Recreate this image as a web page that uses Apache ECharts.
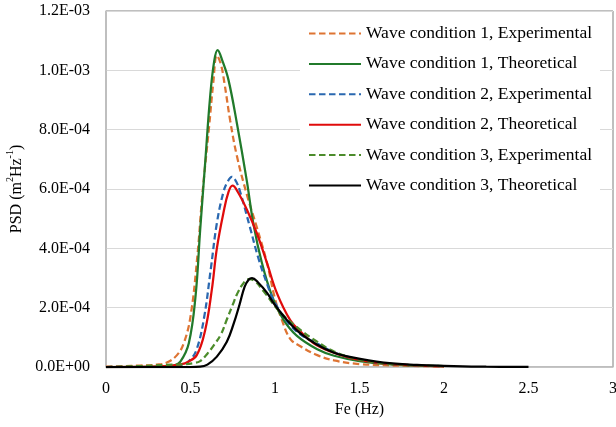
<!DOCTYPE html>
<html>
<head>
<meta charset="utf-8">
<script src="https://cdn.jsdelivr.net/npm/echarts@6/dist/echarts.min.js"></script>
<style>
html,body{margin:0;padding:0;background:#fff;}
#chart{width:616px;height:427px;}
</style>
</head>
<body>
<div id="chart"></div>
<script>
// Series names
const seriesNames = [
  'Wave condition 1, Experimental',
  'Wave condition 1, Theoretical',
  'Wave condition 2, Experimental',
  'Wave condition 2, Theoretical',
  'Wave condition 3, Experimental',
  'Wave condition 3, Theoretical'
];

// Wave condition 1, Experimental
const f1e = [0, 0.1, 0.2, 0.3, 0.36, 0.42, 0.46, 0.5, 0.54, 0.57, 0.61, 0.635, 0.656, 0.68, 0.7, 0.735, 0.775, 0.834, 0.893, 0.953, 1.0, 1.04, 1.09, 1.15, 1.25, 1.35, 1.5, 1.7, 2.0];
const p1e = [0.01e-4, 0.03e-4, 0.05e-4, 0.08e-4, 0.15e-4, 0.4e-4, 0.8e-4, 1.7e-4, 3.7e-4, 5.8e-4, 8.1e-4, 9.6e-4, 10.5e-4, 10.2e-4, 9.6e-4, 8.3e-4, 7.1e-4, 5.8e-4, 4.7e-4, 3.5e-4, 2.3e-4, 1.6e-4, 0.95e-4, 0.7e-4, 0.4e-4, 0.22e-4, 0.1e-4, 0.05e-4, 0.02e-4];

// Wave condition 1, Theoretical
const f1t = [0, 0.3, 0.4, 0.44, 0.49, 0.53, 0.557, 0.587, 0.616, 0.64, 0.66, 0.69, 0.725, 0.775, 0.834, 0.873, 0.923, 0.982, 1.05, 1.13, 1.25, 1.35, 1.5, 1.7, 2.0];
const p1t = [0, 0.01e-4, 0.05e-4, 0.18e-4, 0.8e-4, 2.4e-4, 4.6e-4, 6.9e-4, 9.1e-4, 10.3e-4, 10.68e-4, 10.3e-4, 9.67e-4, 8.2e-4, 6.25e-4, 4.8e-4, 3.5e-4, 2.4e-4, 1.6e-4, 1.05e-4, 0.6e-4, 0.38e-4, 0.2e-4, 0.08e-4, 0.03e-4];

// Wave condition 2, Experimental
const f2e = [0, 0.3, 0.4, 0.46, 0.5, 0.537, 0.58, 0.62, 0.656, 0.695, 0.72, 0.745, 0.77, 0.794, 0.85, 0.9, 0.953, 0.992, 1.07, 1.15, 1.23, 1.35, 1.5, 1.7, 2.0];
const p2e = [0, 0.01e-4, 0.03e-4, 0.08e-4, 0.25e-4, 0.6e-4, 1.65e-4, 3.3e-4, 4.85e-4, 5.9e-4, 6.25e-4, 6.41e-4, 6.25e-4, 5.9e-4, 4.75e-4, 3.7e-4, 2.8e-4, 2.25e-4, 1.55e-4, 1.1e-4, 0.85e-4, 0.5e-4, 0.25e-4, 0.1e-4, 0.03e-4];

// Wave condition 2, Theoretical
const f2t = [0, 0.36, 0.45, 0.478, 0.537, 0.587, 0.626, 0.656, 0.695, 0.725, 0.749, 0.78, 0.834, 0.893, 0.953, 1.012, 1.09, 1.15, 1.229, 1.328, 1.45, 1.6, 1.8, 2.0];
const p2t = [0, 0.03e-4, 0.1e-4, 0.15e-4, 0.4e-4, 1.25e-4, 2.6e-4, 4.0e-4, 5.2e-4, 5.9e-4, 6.11e-4, 5.9e-4, 5.3e-4, 4.5e-4, 3.5e-4, 2.48e-4, 1.58e-4, 1.2e-4, 0.8e-4, 0.52e-4, 0.3e-4, 0.15e-4, 0.06e-4, 0.02e-4];

// Wave condition 3, Experimental
const f3e = [0, 0.2, 0.36, 0.45, 0.517, 0.557, 0.6, 0.64, 0.68, 0.715, 0.75, 0.775, 0.81, 0.845, 0.88, 0.933, 1.03, 1.15, 1.25, 1.35, 1.5, 1.7, 2.0];
const p3e = [0, 0.03e-4, 0.07e-4, 0.09e-4, 0.13e-4, 0.2e-4, 0.45e-4, 0.75e-4, 1.1e-4, 1.6e-4, 2.1e-4, 2.45e-4, 2.8e-4, 2.96e-4, 2.9e-4, 2.55e-4, 1.85e-4, 1.25e-4, 0.85e-4, 0.52e-4, 0.25e-4, 0.1e-4, 0.03e-4];

// Wave condition 3, Theoretical
const f3t = [0, 0.5, 0.557, 0.6, 0.656, 0.715, 0.755, 0.79, 0.82, 0.845, 0.864, 0.9, 0.953, 0.992, 1.071, 1.15, 1.25, 1.35, 1.45, 1.644, 1.84, 2.0, 2.25, 2.5];
const p3t = [0, 0, 0.01e-4, 0.08e-4, 0.35e-4, 0.85e-4, 1.45e-4, 2.1e-4, 2.7e-4, 2.95e-4, 3.0e-4, 2.85e-4, 2.5e-4, 2.15e-4, 1.58e-4, 1.13e-4, 0.75e-4, 0.48e-4, 0.33e-4, 0.15e-4, 0.07e-4, 0.04e-4, 0.01e-4, 0.005e-4];

const freqs = [f1e, f1t, f2e, f2t, f3e, f3t];
const psds = [p1e, p1t, p2e, p2t, p3e, p3t];
const colors = ['#DE7433', '#217A2B', '#2A68B0', '#E00B0B', '#4C8C2B', '#000000'];
const dashed = [true, false, true, false, true, false];

const FONT = 'Liberation Serif';

function fmtY(v) {
  if (v === 0) return '0.0E+00';
  const s = v.toExponential(1);
  const parts = s.split('e');
  const sign = parts[1][0];
  const d = parts[1].slice(1).padStart(2, '0');
  return parts[0] + 'E' + sign + d;
}

const series = seriesNames.map((name, i) => ({
  name: name,
  type: 'line',
  smooth: 0.4,
  symbol: 'none',
  data: freqs[i].map((f, j) => [f, psds[i][j]]),
  lineStyle: {
    color: colors[i],
    width: 2.25,
    type: dashed[i] ? [6.5, 3.5] : 'solid'
  },
  itemStyle: { color: colors[i] },
  z: 2 + i
}));

const chart = echarts.init(document.getElementById('chart'), null, { renderer: 'canvas' });
chart.setOption({
  animation: false,
  backgroundColor: '#ffffff',
  textStyle: { fontFamily: FONT },
  grid: {
    left: 106, right: 3, top: 11, bottom: 60,
    outerBoundsMode: 'none',
    containLabel: false,
    show: true, borderColor: '#7F7F7F', borderWidth: 1, backgroundColor: 'transparent'
  },
  legend: {
    orient: 'vertical',
    left: 300,
    top: 15.5,
    padding: [8, 8, 8, 8],
    backgroundColor: '#ffffff',
    itemWidth: 52,
    itemHeight: 14,
    itemGap: 10.4,
    itemStyle: { opacity: 0 },
    textStyle: { fontFamily: FONT, fontSize: 17.5, color: '#000', lineHeight: 20 },
    data: seriesNames
  },
  xAxis: {
    type: 'value',
    min: 0, max: 3, interval: 0.5,
    name: 'Fe (Hz)',
    nameLocation: 'middle',
    nameGap: 33,
    nameTextStyle: { fontFamily: FONT, fontSize: 16, color: '#000' },
    axisLine: { show: true, lineStyle: { color: '#BFBFBF', width: 1.5 } },
    axisTick: { show: false },
    splitLine: { show: false },
    axisLabel: { fontFamily: FONT, fontSize: 16, color: '#000', margin: 14 }
  },
  yAxis: {
    type: 'value',
    min: 0, max: 0.0012, interval: 0.0002,
    name: '{a|PSD (m}{s|2}{a|Hz}{s|-1}{a|)}',
    nameLocation: 'middle',
    nameGap: 77,
    nameTextStyle: {
      fontFamily: FONT, fontSize: 16, color: '#000',
      rich: {
        a: { fontFamily: FONT, fontSize: 16, color: '#000' },
        s: { fontFamily: FONT, fontSize: 10, color: '#000', verticalAlign: 'top', lineHeight: 22 }
      }
    },
    axisLine: { show: true, lineStyle: { color: '#BFBFBF', width: 1.5 } },
    axisTick: { show: false },
    splitLine: { show: true, lineStyle: { color: '#D9D9D9', width: 1 } },
    axisLabel: { fontFamily: FONT, fontSize: 16, color: '#000', margin: 16, formatter: fmtY }
  },
  series: series
});
</script>
</body>
</html>
